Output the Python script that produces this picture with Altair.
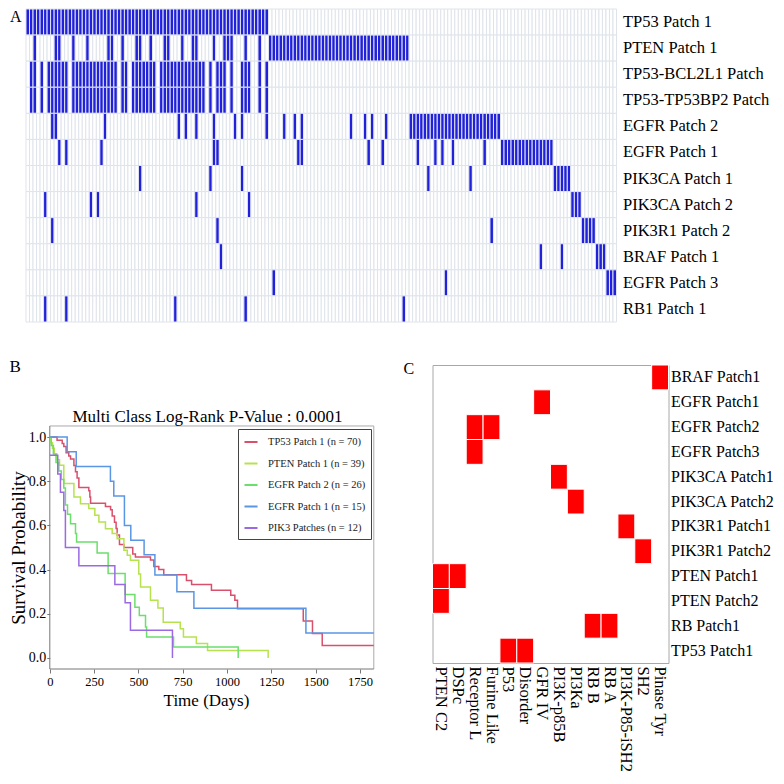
import altair as alt
import pandas as pd

SERIF = "Liberation Serif"

# ---------------- Panel A : patch occurrence per sample ----------------
a_rows = ["TP53 Patch 1", "PTEN Patch 1", "TP53-BCL2L1 Patch", "TP53-TP53BP2 Patch",
          "EGFR Patch 2", "EGFR Patch 1", "PIK3CA Patch 1", "PIK3CA Patch 2",
          "PIK3R1 Patch 2", "BRAF Patch 1", "EGFR Patch 3", "RB1 Patch 1"]
n_samples = 168

tp53_p1 = list(range(0, 69))
pten_p1 = [2, 8, 9, 13, 17, 23, 24, 27, 31, 32, 35, 39, 40, 44, 47, 48, 53,
           56, 57, 58, 62, 66] + list(range(69, 109))
tp53_bcl2l1 = ([1, 2, 4] + list(range(6, 12)) + list(range(13, 26)) + [27, 28]
               + list(range(30, 37)) + list(range(38, 51)) + [52, 54, 55, 56, 58, 61, 62, 63, 66, 68])
tp53_tp53bp2 = list(tp53_bcl2l1)
egfr_p2 = [7, 8, 22, 43, 45, 48, 53, 59, 61, 68, 73, 76, 78, 92, 96, 98, 102] + list(range(109, 135))
egfr_p1 = [9, 11, 21, 53, 54, 77, 78, 97, 101, 111, 116, 118, 121, 130] + list(range(135, 150))
pik3ca_p1 = [32, 52, 61, 114, 126] + list(range(150, 155))
pik3ca_p2 = [5, 18, 20, 48, 63] + list(range(155, 158))
pik3r1_p2 = [7, 54, 132] + list(range(158, 162))
braf_p1 = [55, 146, 152] + list(range(162, 165))
egfr_p3 = [70, 119] + list(range(165, 168))
rb1_p1 = [5, 11, 42, 62, 107]

a_hits = [tp53_p1, pten_p1, tp53_bcl2l1, tp53_tp53bp2, egfr_p2, egfr_p1,
          pik3ca_p1, pik3ca_p2, pik3r1_p2, braf_p1, egfr_p3, rb1_p1]

a_records = []
for name, hits in zip(a_rows, a_hits):
    hs = set(hits)
    for c in range(n_samples):
        a_records.append({"patch": name, "sample": c, "hit": "yes" if c in hs else "no"})
a_df = pd.DataFrame(a_records)

a_heat = alt.Chart(a_df).mark_rect(stroke="#dfe4eb", strokeWidth=1).encode(
    x=alt.X("sample:O", axis=None,
            scale=alt.Scale(domain=list(range(n_samples)), paddingInner=0, paddingOuter=0)),
    y=alt.Y("patch:N", title=None,
            scale=alt.Scale(domain=a_rows, paddingInner=0, paddingOuter=0),
            axis=alt.Axis(orient="right", ticks=False, domain=False, labelFont=SERIF,
                          labelFontSize=16.5, labelColor="black", labelPadding=6, labelLimit=300)),
    fill=alt.Fill("hit:N", legend=None,
                  scale=alt.Scale(domain=["yes", "no"], range=["#2121dc", "#ffffff"])),
)
a_letter = alt.Chart(pd.DataFrame({"t": ["A"]})).mark_text(
    font=SERIF, fontSize=16, align="left", baseline="top", color="black"
).encode(text="t:N", x=alt.value(-16), y=alt.value(0))

panel_a = alt.layer(a_heat, a_letter).properties(
    width=590.5, height=313, view=alt.ViewBackground(stroke="transparent"))

# ---------------- Panel B : Kaplan-Meier curves ----------------
b_groups = ["TP53 Patch 1 (n = 70)", "PTEN Patch 1 (n = 39)", "EGFR Patch 2 (n = 26)",
            "EGFR Patch 1 (n = 15)", "PIK3 Patches (n = 12)"]
b_colors = ["#d9506c", "#b6e24e", "#6cde6c", "#5a96e3", "#9b6ae3"]

tp53_t = [0, 41, 70, 79, 92, 107, 117, 136, 145, 154, 164, 220, 226, 230, 314, 343, 352, 365,
          374, 380, 393, 418, 468, 483, 568, 587, 615, 643, 771, 800, 912, 1021, 1044, 1059,
          1430, 1482, 1537, 1828]
tp53_s = [1.0, 0.985, 0.971, 0.957, 0.929, 0.914, 0.9, 0.871, 0.843, 0.814, 0.771, 0.757, 0.729,
          0.7, 0.686, 0.671, 0.643, 0.614, 0.586, 0.557, 0.514, 0.5, 0.471, 0.457, 0.443, 0.414,
          0.4, 0.377, 0.351, 0.332, 0.306, 0.284, 0.261, 0.223, 0.167, 0.111, 0.056, 0.056]
pten_t = [0, 5, 15, 25, 40, 55, 79, 136, 173, 220, 254, 277, 314, 352, 380, 418, 437, 455, 502,
          512, 568, 610, 640, 736, 754, 827, 890, 1232]
pten_s = [1.0, 0.974, 0.949, 0.923, 0.897, 0.872, 0.79, 0.728, 0.698, 0.676, 0.646, 0.615, 0.585,
          0.563, 0.54, 0.487, 0.465, 0.442, 0.38, 0.321, 0.261, 0.226, 0.162, 0.132, 0.095, 0.065,
          0.034, 0.0]
egfr2_t = [0, 8, 20, 35, 51, 65, 79, 88, 100, 117, 145, 151, 267, 329, 425, 480, 505, 540, 546,
           698, 1063]
egfr2_s = [1.0, 0.962, 0.923, 0.885, 0.846, 0.808, 0.769, 0.692, 0.65, 0.608, 0.563, 0.525,
           0.475, 0.382, 0.287, 0.23, 0.192, 0.14, 0.095, 0.05, 0.0]
egfr1_t = [0, 98, 149, 342, 361, 421, 457, 532, 593, 717, 813, 1445, 1828]
egfr1_s = [1.0, 0.933, 0.867, 0.8, 0.733, 0.6, 0.533, 0.467, 0.375, 0.3, 0.225, 0.113, 0.113]
pik3_t = [0, 45, 60, 79, 88, 164, 367, 425, 455, 692]
pik3_s = [0.917, 0.833, 0.75, 0.667, 0.5, 0.417, 0.333, 0.25, 0.125, 0.0]

b_series = [(tp53_t, tp53_s), (pten_t, pten_s), (egfr2_t, egfr2_s), (egfr1_t, egfr1_s), (pik3_t, pik3_s)]
b_records = []
for g, (ts, ss) in zip(b_groups, b_series):
    for t, s in zip(ts, ss):
        b_records.append({"group": g, "days": t, "surv": s})
b_df = pd.DataFrame(b_records)

x_ticks = [0, 250, 500, 750, 1000, 1250, 1500, 1750]
y_ticks = [0.0, 0.2, 0.4, 0.6, 0.8, 1.0]
x_end = 1828          # right edge of the survival frame (days)
y_lo, y_hi = -0.05, 1.05   # bottom / top of the survival frame
x_room = -134.3       # scale room left of day 0 for the y axis labels
y_room = 1.326        # scale room above the frame for title and panel letter

x_scale = alt.Scale(domain=[x_room, x_end], nice=False, zero=False)
y_scale = alt.Scale(domain=[y_lo, y_room], nice=False, zero=False)

b_lines = alt.Chart(b_df).mark_line(interpolate="step-after", strokeWidth=1.5).encode(
    x=alt.X("days:Q", title="Time (Days)", scale=x_scale,
            axis=alt.Axis(values=x_ticks, format="d", grid=False, domain=False,
                          labelFont=SERIF, labelFontSize=12.5,
                          labelColor="black", labelPadding=2, tickSize=4, tickColor="#777",
                          titleFont=SERIF, titleFontSize=17, titleX=180,
                          titleFontWeight="normal", titleColor="black", titlePadding=5,
                          labelFlush=False)),
    y=alt.Y("surv:Q", title="Survival Probability", scale=y_scale,
            axis=alt.Axis(values=y_ticks, format=".1f", grid=False, domain=False, offset=-23.8,
                          labelFont=SERIF, labelFontSize=14, labelColor="black", labelPadding=1,
                          tickSize=3, tickColor="#777", titleFont=SERIF, titleY=182.5,
                          titleFontSize=19, titleFontWeight="normal", titleColor="black",
                          titlePadding=0, labelFlush=False)),
    color=alt.Color("group:N", scale=alt.Scale(domain=b_groups, range=b_colors),
                    legend=alt.Legend(orient="none", legendX=212, legendY=420, direction="vertical",
                                      title=None, labelFont=SERIF, labelFontSize=10.5,
                                      labelColor="#222", symbolType="stroke", symbolSize=170,
                                      symbolStrokeWidth=2, strokeColor="#444", fillColor="white",
                                      padding=5, rowPadding=7.5, labelOffset=9)),
    order=alt.Order("days:Q"),
)

frame_dark = pd.DataFrame({"x": [0, 0], "x2": [x_end, 0], "y": [y_lo, y_lo], "y2": [y_lo, y_hi]})
frame_light = pd.DataFrame({"x": [0, x_end], "x2": [x_end, x_end], "y": [y_hi, y_lo], "y2": [y_hi, y_hi]})


def frame_layer(df, color):
    return alt.Chart(df).mark_rule(color=color, strokeWidth=1).encode(
        x=alt.X("x:Q", scale=x_scale, title="Time (Days)"),
        x2="x2:Q",
        y=alt.Y("y:Q", scale=y_scale, title="Survival Probability"),
        y2="y2:Q",
    )


b_title = alt.Chart(pd.DataFrame({"t": ["Multi Class Log-Rank P-Value : 0.0001"]})).mark_text(
    font=SERIF, fontSize=17, align="center", baseline="alphabetic", color="black"
).encode(text="t:N", x=alt.value(181.5), y=alt.value(57))
b_letter = alt.Chart(pd.DataFrame({"t": ["B"]})).mark_text(
    font=SERIF, fontSize=17, align="left", baseline="top", color="black"
).encode(text="t:N", x=alt.value(-16.5), y=alt.value(-6))

panel_b = alt.layer(frame_layer(frame_light, "#aaaaaa"), frame_layer(frame_dark, "#777777"),
                    b_lines, b_title, b_letter).properties(
    width=347.8, height=304, view=alt.ViewBackground(stroke="transparent"))

# ---------------- Panel C : patch vs domain ----------------
c_rows = ["BRAF Patch1", "EGFR Patch1", "EGFR Patch2", "EGFR Patch3", "PIK3CA Patch1",
          "PIK3CA Patch2", "PIK3R1 Patch1", "PIK3R1 Patch2", "PTEN Patch1", "PTEN Patch2",
          "RB Patch1", "TP53 Patch1"]
c_cols = ["PTEN C2", "DSPc", "Receptor L", "Furine Like", "P53", "Disorder", "GFR IV",
          "PI3K-p85B", "PI3Ka", "RB B", "RB A", "PI3K-P85-iSH2", "SH2", "Pinase Tyr"]
c_hits = [["Pinase Tyr"], ["GFR IV"], ["Receptor L", "Furine Like"], ["Receptor L"],
          ["PI3K-p85B"], ["PI3Ka"], ["PI3K-P85-iSH2"], ["SH2"], ["PTEN C2", "DSPc"],
          ["PTEN C2"], ["RB B", "RB A"], ["P53", "Disorder"]]
c_records = []
for r, hs in zip(c_rows, c_hits):
    for h in hs:
        c_records.append({"patch": r, "dom": h})
c_df = pd.DataFrame(c_records)

c_heat = alt.Chart(c_df).mark_rect(color="#ff0000", stroke="white", strokeWidth=1).encode(
    x=alt.X("dom:N", title=None,
            scale=alt.Scale(domain=c_cols, paddingInner=0, paddingOuter=0),
            axis=alt.Axis(orient="bottom", labelAngle=90, ticks=False, domain=False,
                          labelFont=SERIF, labelFontSize=16.5, labelColor="black",
                          labelPadding=3, labelLimit=300)),
    y=alt.Y("patch:N", title=None,
            scale=alt.Scale(domain=c_rows, paddingInner=0, paddingOuter=0),
            axis=alt.Axis(orient="right", ticks=False, domain=False, labelFont=SERIF,
                          labelFontSize=16, labelColor="black", labelPadding=2, labelLimit=300)),
)
c_letter = alt.Chart(pd.DataFrame({"t": ["C"]})).mark_text(
    font=SERIF, fontSize=16, align="left", baseline="top", color="black"
).encode(text="t:N", x=alt.value(-29), y=alt.value(-4))

panel_c = alt.layer(c_heat, c_letter).properties(
    width=236, height=298, view=alt.ViewBackground(stroke="#a8a8a8"))

chart = alt.vconcat(
    panel_a,
    alt.hconcat(panel_b, panel_c, spacing=24.5),
    spacing=34,
).properties(padding=0).configure(font=SERIF)

chart.save("out.html", embed_options={"renderer": "svg", "actions": False})
